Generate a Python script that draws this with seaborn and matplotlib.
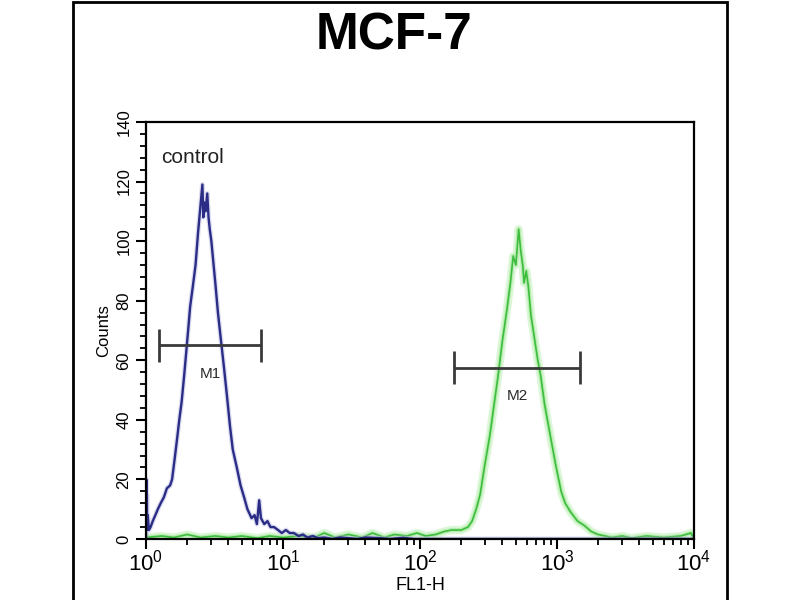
import matplotlib
matplotlib.use("Agg")
import matplotlib.pyplot as plt
from matplotlib.patches import Rectangle
from matplotlib.ticker import LogLocator, MultipleLocator, LogFormatterMathtext
import seaborn as sns
import pandas as pd

# control histogram (blue)
ctrl_x = [1.0, 1.005, 1.01, 1.015, 1.02, 1.03, 1.05, 1.08, 1.12, 1.17, 1.22, 1.28, 1.35,
          1.42, 1.5, 1.55, 1.62, 1.68, 1.75, 1.82, 1.9, 1.96, 2.03, 2.1, 2.2, 2.3, 2.4,
          2.5, 2.58, 2.62, 2.66, 2.72, 2.8, 2.86, 2.92, 3.0, 3.1, 3.22, 3.35, 3.5, 3.7,
          3.9, 4.1, 4.3, 4.6, 4.9, 5.2, 5.5, 5.9, 6.2, 6.45, 6.7, 6.9, 7.3, 7.7, 8.1,
          8.6, 9.2, 9.8, 10.5, 11.2, 12, 13, 14, 15, 16.5, 18, 20, 23, 26, 30, 35, 40,
          50, 60, 75, 90, 120, 10000]
ctrl_y = [0, 20, 5, 15, 3, 8, 3, 4, 6, 8, 10, 12, 14,
          17, 18, 20, 27, 33, 40, 46, 55, 62, 70, 78, 85, 92, 103,
          112, 119, 108, 113, 110, 116, 108, 104, 100, 93, 85, 76, 68, 58,
          48, 38, 30, 24, 18, 14, 10, 7, 8, 5, 13, 7, 5, 6, 4,
          4, 3, 2, 3, 2, 2, 1, 1.5, 0.5, 1, 0.3, 0.5, 0, 0.5, 0.3, 0, 0.5,
          0.3, 0, 0.4, 0, 0, 0]

# stained sample histogram (green)
samp_x = [1.0, 1.3, 1.6, 2.0, 2.5, 3.2, 4, 5, 6.5, 8, 10, 13, 17, 20, 24, 30, 38, 45, 55,
          65, 80, 95, 110, 130, 150, 170, 200, 224, 240, 257, 275, 295, 324, 347, 372,
          398, 431, 457, 479, 501, 525, 543, 562, 575, 596, 617, 646, 676, 724, 759,
          813, 891, 977, 1072, 1148, 1259, 1413, 1585, 1778, 1995, 2239, 2512, 3000,
          3500, 4500, 6000, 8000, 9500, 10000]
samp_y = [0.5, 1, 0.5, 1.5, 0.5, 1, 0.5, 1, 0.3, 1, 0.5, 1, 0.5, 2, 0.5, 1.5, 0.5, 2, 0.5,
          1.5, 1, 2, 1, 1.5, 2.5, 3, 3, 4, 6, 10, 15, 24, 35, 45, 55,
          66, 77, 86, 95, 92, 104, 97, 92, 86, 90, 85, 75, 69, 60, 55,
          45, 35, 25, 16, 12, 9, 6, 4.5, 2.5, 1.5, 1, 0.5, 1,
          0.3, 1, 0.5, 1, 2, 0]

# gates
gate_names = ["M1", "M2"]
gate_lo = [1.245, 178]
gate_hi = [6.9, 1480]
gate_y = [65, 57.5]

sns.set_theme(style="ticks")
plt.rcParams["font.family"] = ["Liberation Sans", "DejaVu Sans"]
plt.rcParams["mathtext.fontset"] = "custom"
plt.rcParams["mathtext.rm"] = "Liberation Sans"
plt.rcParams["mathtext.it"] = "Liberation Sans"
plt.rcParams["text.color"] = "black"
plt.rcParams["xtick.color"] = "black"
plt.rcParams["ytick.color"] = "black"
plt.rcParams["axes.labelcolor"] = "black"

fig = plt.figure(figsize=(8, 6), dpi=100)
ax = fig.add_axes([0.1825, 0.1017, 0.685, 0.695])

ctrl = pd.DataFrame({"FL1-H": ctrl_x, "Counts": ctrl_y})
samp = pd.DataFrame({"FL1-H": samp_x, "Counts": samp_y})

# soft glow under the green trace
sns.lineplot(data=samp, x="FL1-H", y="Counts", ax=ax, color="#d4f5cf", lw=6,
             estimator=None, alpha=0.8)
sns.lineplot(data=samp, x="FL1-H", y="Counts", ax=ax, color="#aeeaa6", lw=3,
             estimator=None, alpha=0.8)
sns.lineplot(data=samp, x="FL1-H", y="Counts", ax=ax, color="#3dbd3d", lw=1.2,
             estimator=None)
sns.lineplot(data=ctrl, x="FL1-H", y="Counts", ax=ax, color="#b9bbe0", lw=3.5,
             estimator=None, alpha=0.5)
sns.lineplot(data=ctrl, x="FL1-H", y="Counts", ax=ax, color="#2b2c86", lw=1.7,
             estimator=None)

for name, lo, hi, gy in zip(gate_names, gate_lo, gate_hi, gate_y):
    ax.hlines(gy, lo, hi, color="#3a3a3a", lw=2)
    ax.vlines([lo, hi], gy - 5.5, gy + 5.5, color="#3a3a3a", lw=2)
    ax.text((lo * hi) ** 0.5, gy - 9.5, name, ha="center", va="center",
            fontsize=11, color="#2a2a2a")

ax.text(1.3, 128, "control", fontsize=15, color="#222222", va="center")

ax.set_xscale("log")
ax.set_xlim(1, 10000)
ax.set_ylim(0, 140)
ax.xaxis.set_major_locator(LogLocator(base=10, numticks=10))
ax.xaxis.set_minor_locator(LogLocator(base=10, subs=range(2, 10), numticks=10))
ax.xaxis.set_major_formatter(LogFormatterMathtext())
ax.yaxis.set_major_locator(MultipleLocator(20))
ax.yaxis.set_minor_locator(MultipleLocator(4))

ax.tick_params(axis="both", which="major", direction="out", length=7, width=1.5,
               color="black", labelsize=16)
ax.tick_params(axis="both", which="minor", direction="out", length=4, width=1.3,
               color="black")
ax.tick_params(axis="x", pad=1)
ax.tick_params(axis="y", labelsize=12)
for lab in ax.get_yticklabels():
    lab.set_rotation(90)
    lab.set_va("center")

ax.set_xlabel("FL1-H", fontsize=13, labelpad=1)
ax.set_ylabel("Counts", fontsize=12, labelpad=4)

for s in ax.spines.values():
    s.set_linewidth(1.6)
    s.set_color("black")

fig.text(0.493, 1 - 50 / 600, "MCF-7", ha="center", va="baseline", fontsize=37,
         fontweight="bold", color="black")

fig.patches.append(Rectangle((0.091, -0.01), 0.818, 1.007, transform=fig.transFigure,
                             fill=False, edgecolor="black", lw=2))

fig.savefig("out.png", dpi=100)
